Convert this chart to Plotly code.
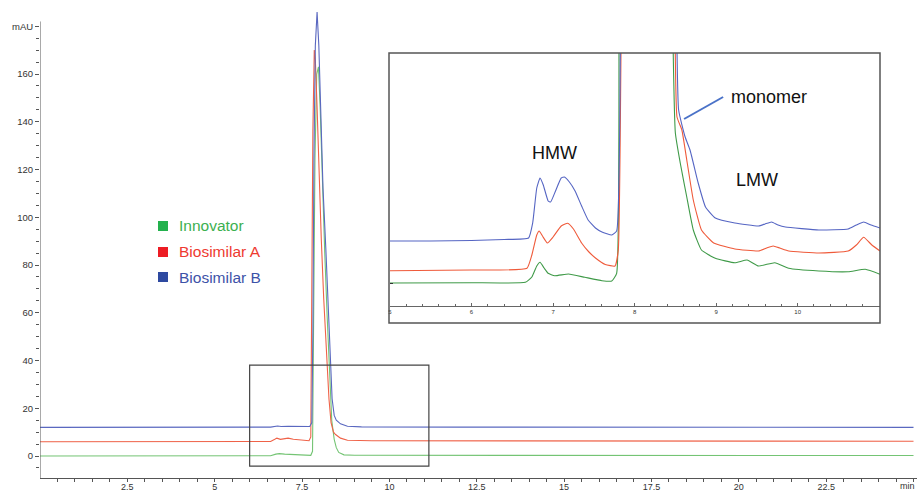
import plotly.graph_objects as go

# ---- SEC chromatogram, full run (signal above each trace's own baseline, mAU) ----
innovator_t = [0, 6.6, 6.75, 6.85, 7.0, 7.3, 7.6, 7.75, 7.80, 7.83, 7.87, 7.92, 7.97,
               8.02, 8.08, 8.15, 8.22, 8.29, 8.35, 8.42, 8.48, 8.55, 8.7, 9.0, 25]
innovator_v = [0, 0.1, 0.8, 1.0, 0.8, 0.7, 0.4, 0.3, 2, 50, 125, 160, 163,
               145, 115, 85, 58, 32, 15, 7, 3.5, 1.5, 0.5, 0.3, 0.2]

biosimA_t = [0, 6.6, 6.72, 6.78, 6.88, 7.0, 7.1, 7.25, 7.5, 7.70, 7.75, 7.78, 7.81,
             7.85, 7.88, 7.93, 7.98, 8.05, 8.12, 8.20, 8.27, 8.33, 8.40, 8.46, 8.6,
             8.8, 9.5, 25]
biosimA_v = [0, 0.1, 1.0, 1.5, 1.0, 1.4, 1.5, 1.0, 0.5, 0.4, 2, 60, 130,
             164, 160, 140, 115, 85, 60, 35, 18, 8, 4, 3, 1.5,
             0.6, 0.4, 0.2]

biosimB_t = [0, 6.6, 6.8, 6.9, 7.1, 7.3, 7.6, 7.72, 7.78, 7.81, 7.84, 7.88, 7.93,
             7.98, 8.03, 8.10, 8.18, 8.25, 8.30, 8.36, 8.42, 8.48, 8.6, 8.8, 9.2,
             12, 25]
biosimB_v = [0, 0.1, 0.6, 0.4, 0.5, 0.4, 0.3, 0.4, 2, 40, 112, 160, 174,
             160, 135, 100, 75, 50, 27, 12, 5, 3, 1.5, 0.5, 0.2,
             0.1, 0]

# vertical stacking offsets of the overlaid traces (mAU)
offset_innovator = 0
offset_biosimA = 6
offset_biosimB = 12

# ---- zoomed view 5-11 min (expanded intensity units) ----
zoom_innovator_t = [5.0, 6.0, 6.66, 6.74, 6.80, 6.84, 6.89, 6.94, 7.02, 7.19, 7.39, 7.60,
                    7.72, 7.78, 7.81, 8.12, 8.46, 8.50, 8.56, 8.64, 8.72, 8.82, 8.99,
                    9.23, 9.38, 9.52, 9.72, 9.89, 10.26, 10.62, 10.83, 11.01]
zoom_innovator_v = [0, 0.03, 0.07, 0.6, 1.7, 2.07, 1.5, 0.97, 0.73, 0.9, 0.57, 0.23,
                    0.2, 0.97, 30, 400, 30, 15, 12, 8.6, 5.3, 3.3, 2.47,
                    2.03, 2.3, 1.7, 2.03, 1.47, 1.2, 1.13, 1.37, 0.87]

zoom_biosimA_t = [5.0, 6.0, 6.68, 6.74, 6.80, 6.83, 6.87, 6.93, 7.00, 7.10, 7.18, 7.25,
                  7.35, 7.44, 7.52, 7.64, 7.76, 7.80, 7.84, 8.15, 8.49, 8.52, 8.58,
                  8.64, 8.72, 8.82, 8.97, 9.23, 9.52, 9.62, 9.70, 9.78, 9.89, 10.26,
                  10.62, 10.72, 10.81, 10.91, 11.01]
zoom_biosimA_v = [1.23, 1.3, 1.47, 2.8, 4.8, 5.2, 4.7, 4.0, 4.6, 5.7, 5.97, 5.4,
                  4.0, 3.1, 2.5, 1.85, 1.7, 3.3, 30, 400, 30, 16.6, 15.3,
                  12.3, 8.3, 5.3, 4.0, 3.4, 3.2, 3.5, 3.7, 3.5, 3.2, 3.0,
                  3.2, 3.8, 4.57, 3.8, 3.2]

zoom_biosimB_t = [5.0, 5.5, 6.0, 6.4, 6.70, 6.75, 6.80, 6.84, 6.88, 6.94, 6.97, 7.03,
                  7.10, 7.14, 7.20, 7.27, 7.35, 7.43, 7.52, 7.60, 7.72, 7.78, 7.83,
                  8.15, 8.51, 8.54, 8.62, 8.68, 8.78, 8.87, 8.99, 9.23, 9.52, 9.60,
                  9.68, 9.76, 9.85, 10.26, 10.62, 10.72, 10.81, 10.90, 11.01]
zoom_biosimB_v = [4.2, 4.2, 4.25, 4.35, 4.5, 6.0, 9.5, 10.5, 9.8, 8.2, 8.1, 9.2,
                  10.5, 10.6, 10.1, 9.2, 7.7, 6.3, 5.5, 5.1, 4.8, 5.2, 30,
                  400, 30, 17.3, 14.6, 13.3, 10.0, 7.6, 6.5, 6.0, 5.7, 5.9,
                  6.1, 5.8, 5.6, 5.3, 5.4, 5.8, 6.1, 5.8, 5.5]

series_names = ["Innovator", "Biosimilar A", "Biosimilar B"]
main_colors = ["#74c474", "#ef6248", "#5a68c0"]
zoom_colors = ["#3f9a48", "#ef5a3a", "#5565c3"]
legend_square_colors = ["#23b14d", "#ed1c24", "#2e49a0"]
legend_text_colors = ["#3cb050", "#ee3a30", "#3d52a8"]

x_ticks = [2.5, 5, 7.5, 10, 12.5, 15, 17.5, 20, 22.5, 25]
x_ticktext = ["2.5", "5", "7.5", "10", "12.5", "15", "17.5", "20", "22.5", ""]
x_unit = "min"
y_ticks = [0, 20, 40, 60, 80, 100, 120, 140, 160, 180]
y_ticktext = ["0", "20", "40", "60", "80", "100", "120", "140", "160", "mAU"]
zoom_x_ticks = [5, 6, 7, 8, 9, 10]

W, H = 917, 493
ML, MR, MT, MB = 40, 0, 5, 15
Y_MIN, Y_MAX, Y_AXIS_TOP = -9.2, 188.9, 182
X_MAX = 25.1

def px_to_paper(px, py):
    return (px - ML) / (W - ML - MR), (H - MB - py) / (H - MT - MB)

fig = go.Figure()

main_sets = [(innovator_t, innovator_v, offset_innovator),
             (biosimA_t, biosimA_v, offset_biosimA),
             (biosimB_t, biosimB_v, offset_biosimB)]
for (t, v, off), name, col in zip(main_sets, series_names, main_colors):
    fig.add_trace(go.Scatter(x=t, y=[val + off for val in v], mode="lines",
                             line=dict(color=col, width=1.1), name=name,
                             showlegend=False, xaxis="x", yaxis="y"))

zoom_sets = [(zoom_innovator_t, zoom_innovator_v),
             (zoom_biosimA_t, zoom_biosimA_v),
             (zoom_biosimB_t, zoom_biosimB_v)]
for (t, v), name, col in zip(zoom_sets, series_names, zoom_colors):
    fig.add_trace(go.Scatter(x=t, y=v, mode="lines",
                             line=dict(color=col, width=1.1, shape="spline", smoothing=0.4),
                             name=name, showlegend=False, xaxis="x2", yaxis="y2"))

# inset placement
ix0, iy0 = px_to_paper(390, 306)
ix1, iy1 = px_to_paper(880, 53)
bx0, by0 = px_to_paper(389, 323)

tickfont = dict(family="Liberation Sans, Arial, sans-serif", size=9.5, color="#333")
xtickfont = dict(family="Liberation Sans, Arial, sans-serif", size=9, color="#333")

fig.update_layout(
    width=W, height=H, template="none",
    margin=dict(l=ML, r=MR, t=MT, b=MB, pad=0),
    paper_bgcolor="white", plot_bgcolor="white",
    showlegend=False,
    xaxis=dict(domain=[0, 1], range=[0, X_MAX], showgrid=False, zeroline=False,
               showline=True, linecolor="#555", linewidth=1,
               tickmode="array", tickvals=x_ticks, ticktext=x_ticktext,
               ticks="outside", ticklen=3, tickcolor="#555", tickfont=xtickfont,
               ticklabeloverflow="allow", ticklabelstandoff=-3,
               minor=dict(tickmode="array",
                          tickvals=[i * 0.5 for i in range(1, 51)],
                          ticks="outside", ticklen=3, tickcolor="#555"),
               automargin=False),
    yaxis=dict(domain=[0, 1], range=[Y_MIN, Y_MAX], showgrid=False, zeroline=False,
               showline=False,
               tickmode="array", tickvals=y_ticks, ticktext=y_ticktext,
               ticks="outside", ticklen=4, tickcolor="#555", tickfont=tickfont,
               minor=dict(tickmode="array",
                          tickvals=[-5 + 5 * i for i in range(37)],
                          ticks="outside", ticklen=3, tickcolor="#555"),
               automargin=False),
    xaxis2=dict(domain=[ix0, ix1], anchor="y2", range=[5, 11.01], showgrid=False,
                zeroline=False, showline=True, linecolor="#666", linewidth=1,
                tickmode="array", tickvals=zoom_x_ticks,
                ticks="inside", ticklen=3, tickcolor="#666",
                tickfont=dict(family="Liberation Sans, Arial, sans-serif", size=6, color="#333"),
                minor=dict(dtick=0.2, tick0=5, ticks="inside", ticklen=2, tickcolor="#666"),
                automargin=False),
    yaxis2=dict(domain=[iy0, iy1], anchor="x2", range=[-2.3, 23.0], showgrid=False,
                zeroline=False, showline=False, tickmode="array", tickvals=[0],
                ticks="inside", ticklen=3, tickcolor="#333", showticklabels=False,
                automargin=False),
)

# y axis line, stopping at the unit label
fig.add_shape(type="line", xref="x", yref="y", x0=0, x1=0, y0=Y_MIN, y1=Y_AXIS_TOP,
              line=dict(color="#555", width=1))

# time unit at the right end of the x axis
ux, uy = px_to_paper(917, 486)
fig.add_annotation(x=ux, y=uy, xref="paper", yref="paper", text=x_unit, showarrow=False,
                   xanchor="right", yanchor="middle", font=xtickfont)

# region of the run shown enlarged
fig.add_shape(type="rect", xref="x", yref="y", x0=6.0, x1=11.13, y0=-4.2, y1=38.1,
              line=dict(color="#444", width=1.2))

# inset frame
fig.add_shape(type="rect", xref="paper", yref="paper", x0=bx0, x1=ix1, y0=by0, y1=iy1,
              line=dict(color="#555", width=1.5), layer="above")

# peak annotations in the inset
label_font = dict(family="Liberation Sans, Arial, sans-serif", size=18, color="#111")
fig.add_annotation(x=7.02, y=13.0, xref="x2", yref="y2", text="HMW", showarrow=False,
                   font=label_font)
fig.add_annotation(x=9.50, y=10.3, xref="x2", yref="y2", text="LMW", showarrow=False,
                   font=label_font)
fig.add_annotation(x=9.16, y=18.6, xref="x2", yref="y2", text="monomer", showarrow=False,
                   xanchor="left", font=label_font)
fig.add_shape(type="line", xref="x2", yref="y2", x0=9.086, y0=18.6, x1=8.607, y1=16.4,
              line=dict(color="#4a72c8", width=2))

# legend
legend_rows_py = [226, 252, 277]
for name, sq, tc, py in zip(series_names, legend_square_colors, legend_text_colors, legend_rows_py):
    sx0, sy0 = px_to_paper(158, py + 5)
    sx1, sy1 = px_to_paper(168, py - 5)
    fig.add_shape(type="rect", xref="paper", yref="paper", x0=sx0, x1=sx1, y0=sy0, y1=sy1,
                  fillcolor=sq, line=dict(width=0))
    tx, ty = px_to_paper(177, py)
    fig.add_annotation(x=tx, y=ty, xref="paper", yref="paper", text=name, showarrow=False,
                       xanchor="left", yanchor="middle",
                       font=dict(family="Liberation Sans, Arial, sans-serif", size=15.5, color=tc))

fig.write_html("out.html")
